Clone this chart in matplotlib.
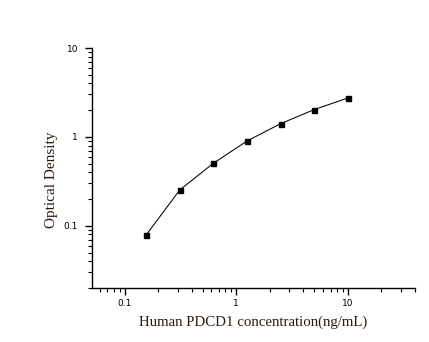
import matplotlib
matplotlib.use("Agg")
import matplotlib.pyplot as plt
from matplotlib.ticker import LogLocator, FixedLocator, FixedFormatter, NullFormatter

conc = [0.156, 0.3125, 0.625, 1.25, 2.5, 5.0, 10.0]
od = [0.079, 0.254, 0.506, 0.90, 1.41, 2.03, 2.74]

x_ticks = [0.1, 1, 10]
x_tick_labels = ["0.1", "1", "10"]
y_ticks = [0.1, 1, 10]
y_tick_labels = ["0.1", "1", "10"]

fig = plt.figure(figsize=(4.29, 3.42), dpi=100)
ax = fig.add_axes([92/429, 1-288/342, (415-92)/429, (288-48)/342])
ax.plot(conc, od, color="black", lw=0.75, marker="s", ms=3.6, mfc="black", mec="black")
ax.set_xscale("log")
ax.set_yscale("log")
ax.set_xlim(0.051, 40)
ax.set_ylim(0.02, 10)

for s in ["top", "right"]:
    ax.spines[s].set_visible(False)
for s in ["left", "bottom"]:
    ax.spines[s].set_linewidth(1.0)

ax.xaxis.set_major_locator(FixedLocator(x_ticks))
ax.xaxis.set_major_formatter(FixedFormatter(x_tick_labels))
ax.yaxis.set_major_locator(FixedLocator(y_ticks))
ax.yaxis.set_major_formatter(FixedFormatter(y_tick_labels))
ax.xaxis.set_minor_locator(LogLocator(base=10, subs=range(2, 10)))
ax.yaxis.set_minor_locator(LogLocator(base=10, subs=range(2, 10)))
ax.xaxis.set_minor_formatter(NullFormatter())
ax.yaxis.set_minor_formatter(NullFormatter())
ax.tick_params(which="major", direction="out", length=5, width=1.0, labelsize=6.5)
ax.tick_params(axis="x", which="major", pad=3)
ax.tick_params(axis="y", which="major", pad=5)
ax.tick_params(which="minor", direction="out", length=3, width=0.8)

ax.set_xlabel("Human PDCD1 concentration(ng/mL)", fontsize=10.7, family="Liberation Serif",
              color="#2a1a10")
ax.set_ylabel("Optical Density", fontsize=11, family="Liberation Serif",
              color="#2a1a10")
ax.xaxis.set_label_coords(0.5, -0.115)
ax.yaxis.set_label_coords(-0.105, 0.45)

fig.savefig("out.png", dpi=100)
